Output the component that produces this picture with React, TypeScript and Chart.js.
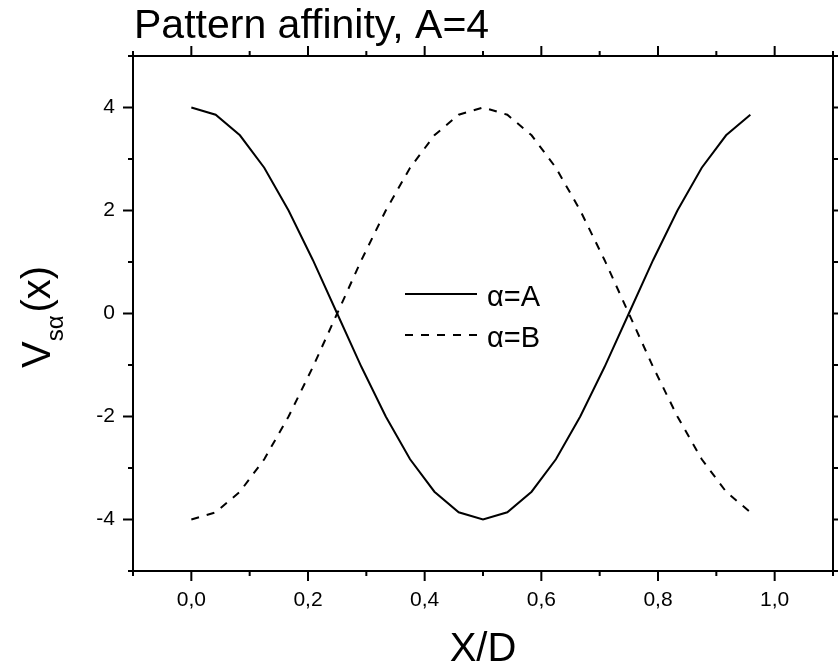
import React, { useEffect, useRef } from "react";
import { Chart, registerables } from "chart.js";

Chart.register(...registerables);

const xValues = [
  0, 0.0417, 0.0833, 0.125, 0.1667, 0.2083, 0.25, 0.2917, 0.3333, 0.375, 0.4167, 0.4583,
  0.5, 0.5417, 0.5833, 0.625, 0.6667, 0.7083, 0.75, 0.7917, 0.8333, 0.875, 0.9167, 0.9583,
];
const seriesA = [
  4, 3.86, 3.46, 2.83, 2.0, 1.04, 0, -1.04, -2.0, -2.83, -3.46, -3.86,
  -4, -3.86, -3.46, -2.83, -2.0, -1.04, 0, 1.04, 2.0, 2.83, 3.46, 3.86,
];
const seriesB = [
  -4, -3.86, -3.46, -2.83, -2.0, -1.04, 0, 1.04, 2.0, 2.83, 3.46, 3.86,
  4, 3.86, 3.46, 2.83, 2.0, 1.04, 0, -1.04, -2.0, -2.83, -3.46, -3.86,
];
const seriesNames = ["α=A", "α=B"];
const titleText = "Pattern affinity, A=4";
const xTitle = "X/D";

const FONT = "'Liberation Sans', Arial, sans-serif";

const framePlugin = {
  id: "frameAndText",
  afterDraw(chart: any) {
    const { ctx, chartArea: a, scales } = chart;
    const xs = scales.x;
    const ys = scales.y;
    ctx.save();
    ctx.strokeStyle = "#000";
    ctx.lineWidth = 2;
    ctx.strokeRect(a.left, a.top, a.right - a.left, a.bottom - a.top);
    ctx.beginPath();
    xs.ticks.forEach((t: any) => {
      const px = xs.getPixelForValue(t.value);
      const major = t.label !== "";
      const len = major ? 10 : 5;
      ctx.moveTo(px, a.bottom);
      ctx.lineTo(px, a.bottom + len);
      ctx.moveTo(px, a.top);
      ctx.lineTo(px, a.top - len);
    });
    ys.ticks.forEach((t: any) => {
      const py = ys.getPixelForValue(t.value);
      const major = t.label !== "";
      const len = major ? 10 : 5;
      ctx.moveTo(a.left, py);
      ctx.lineTo(a.left - len, py);
      ctx.moveTo(a.right, py);
      ctx.lineTo(a.right + len, py);
    });
    ctx.stroke();

    ctx.fillStyle = "#000";
    ctx.textBaseline = "alphabetic";
    // title
    ctx.font = `41px ${FONT}`;
    ctx.textAlign = "left";
    ctx.fillText(titleText, 134, 38);
    // x title
    ctx.font = `40px ${FONT}`;
    ctx.textAlign = "center";
    ctx.fillText(xTitle, (a.left + a.right) / 2, 661);
    // y title with subscript
    ctx.save();
    ctx.translate(50, 368);
    ctx.rotate(-Math.PI / 2);
    ctx.textAlign = "left";
    ctx.font = `40px ${FONT}`;
    ctx.fillText("V", 0, 0);
    let off = ctx.measureText("V").width;
    ctx.font = `24px ${FONT}`;
    ctx.fillText("sα", off, 13);
    off += ctx.measureText("sα").width + 3;
    ctx.font = `40px ${FONT}`;
    ctx.fillText("(x)", off, 0);
    ctx.restore();

    // legend
    const entries = [
      { y: 294, dash: [] as number[], ty: 306 },
      { y: 335, dash: [8, 8], ty: 347 },
    ];
    entries.forEach((e, i) => {
      ctx.beginPath();
      ctx.setLineDash(e.dash);
      ctx.lineWidth = 2;
      ctx.moveTo(405, e.y);
      ctx.lineTo(477, e.y);
      ctx.stroke();
      ctx.setLineDash([]);
      ctx.font = `29px ${FONT}`;
      ctx.textAlign = "left";
      ctx.fillText(seriesNames[i], 487, e.ty);
    });
    ctx.restore();
  },
};

export default function App() {
  const ref = useRef<HTMLCanvasElement>(null);
  useEffect(() => {
    document.body.style.margin = "0";
    const canvas = ref.current!;
    const chart = new Chart(canvas, {
      type: "line",
      data: {
        datasets: [
          {
            label: seriesNames[0],
            data: xValues.map((x, i) => ({ x, y: seriesA[i] })),
            borderColor: "#000",
            borderWidth: 2,
            pointRadius: 0,
            tension: 0,
            fill: false,
          },
          {
            label: seriesNames[1],
            data: xValues.map((x, i) => ({ x, y: seriesB[i] })),
            borderColor: "#000",
            borderWidth: 2,
            borderDash: [8, 8],
            pointRadius: 0,
            tension: 0,
            fill: false,
          },
        ],
      },
      options: {
        animation: false,
        responsive: false,
        maintainAspectRatio: false,
        layout: { padding: { top: 56, right: 5, left: 0, bottom: 0 } },
        plugins: { legend: { display: false }, tooltip: { enabled: false }, title: { display: false } },
        scales: {
          x: {
            type: "linear",
            min: -0.1,
            max: 1.1,
            grid: { display: false, drawTicks: false },
            border: { display: false },
            ticks: {
              stepSize: 0.1,
              autoSkip: false,
              maxRotation: 0,
              padding: 17,
              color: "#000",
              font: { family: FONT, size: 21 },
              callback: (v: any) => {
                const k = Math.round(Number(v) * 10);
                if (k < 0 || k > 10 || k % 2 !== 0) return "";
                return (k / 10).toFixed(1).replace(".", ",");
              },
            },
            afterFit: (s: any) => {
              s.height = 94;
              s.paddingLeft = 0;
              s.paddingRight = 0;
            },
          },
          y: {
            type: "linear",
            min: -5,
            max: 5,
            grid: { display: false, drawTicks: false },
            border: { display: false },
            ticks: {
              stepSize: 1,
              autoSkip: false,
              padding: 18,
              color: "#000",
              font: { family: FONT, size: 21 },
              callback: (v: any) => {
                const k = Math.round(Number(v));
                if (k % 2 !== 0) return "";
                return String(k);
              },
            },
            afterFit: (s: any) => {
              s.width = 133;
              s.paddingTop = 0;
              s.paddingBottom = 0;
            },
          },
        },
      },
      plugins: [framePlugin],
    });
    return () => chart.destroy();
  }, []);
  return <canvas ref={ref} width={838} height={665} style={{ display: "block" }} />;
}
